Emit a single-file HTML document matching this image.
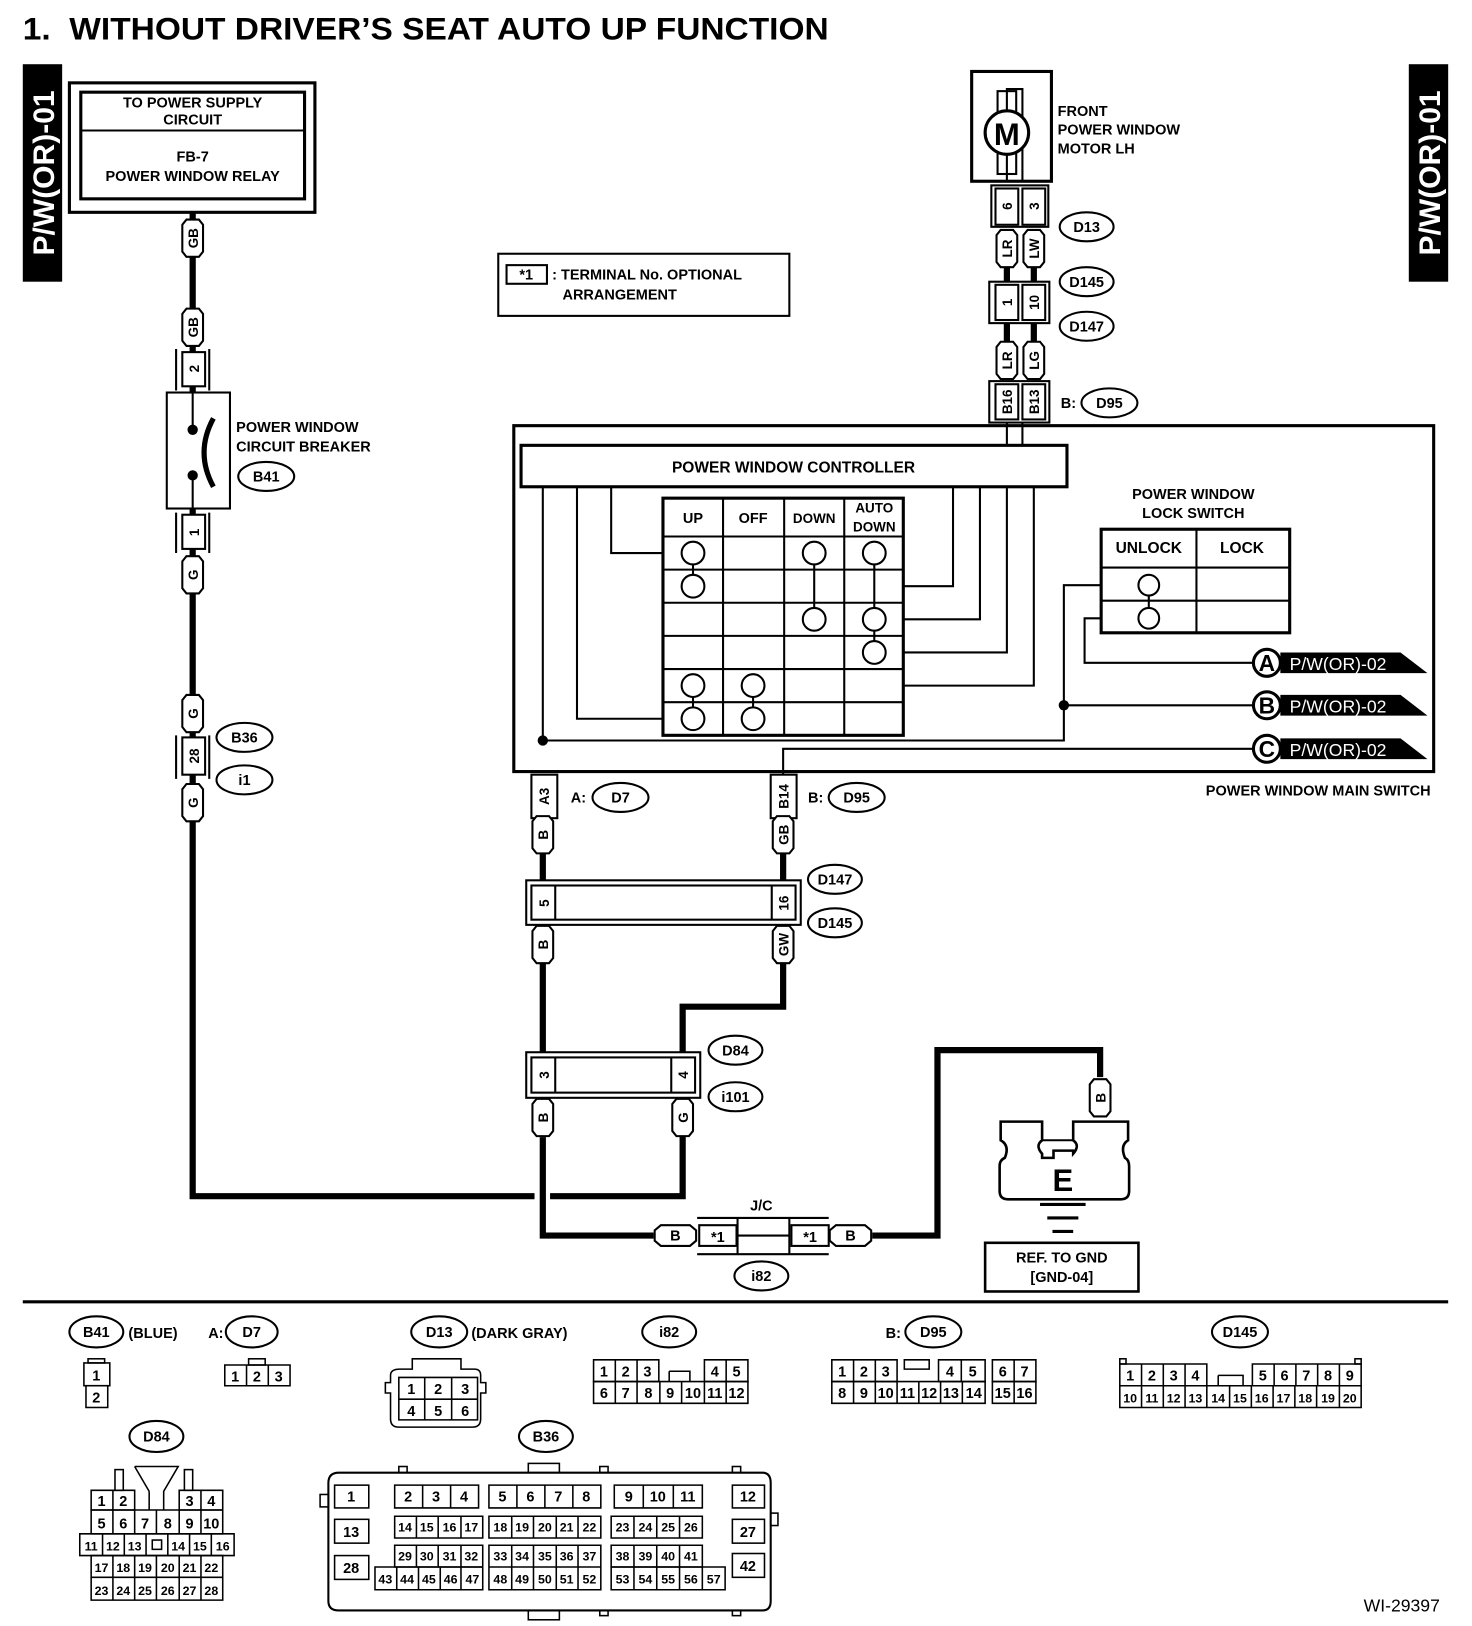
<!DOCTYPE html>
<html><head><meta charset="utf-8"><style>
html,body{margin:0;padding:0;background:#fff}
svg{display:block}
text{font-family:"Liberation Sans",Arial,sans-serif;font-weight:bold;fill:#000}
.n{font-weight:normal;font-size:14px}
</style></head><body>
<svg width="1472" height="1626" viewBox="0 0 1421 1570" preserveAspectRatio="none" xmlns="http://www.w3.org/2000/svg">
<defs>
<g id="pv"><polygon points="-6,-18 6,-18 10,-13 10,13 6,18 -6,18 -10,13 -10,-13" fill="#fff" stroke="#000" stroke-width="2"/></g>
<g id="ph"><polygon points="-14,-10 14,-10 20,-5 20,5 14,10 -14,10 -20,5 -20,-5" fill="#fff" stroke="#000" stroke-width="2"/></g>
</defs>
<rect width="1421" height="1570" fill="#fff"/>
<text x="22" y="38" font-size="30" textLength="778" lengthAdjust="spacingAndGlyphs" xml:space="preserve">1.  WITHOUT DRIVER’S SEAT AUTO UP FUNCTION</text>
<rect x="22" y="62" width="38" height="210" fill="#000"/>
<text transform="translate(52,167) rotate(-90)" text-anchor="middle" font-size="29" style="fill:#fff">P/W(OR)-01</text>
<rect x="1360" y="62" width="38" height="210" fill="#000"/>
<text transform="translate(1390,167) rotate(-90)" text-anchor="middle" font-size="29" style="fill:#fff">P/W(OR)-01</text>

<g fill="none" stroke="#000" stroke-width="2">
<rect x="67" y="80" width="237" height="125" stroke-width="3"/>
<rect x="78" y="89" width="216" height="103" stroke-width="3"/>
<line x1="78" y1="126" x2="294" y2="126"/>
<path d="M186 205V1155H516" stroke-width="6"/>
<path d="M531 1155H659V1090" stroke-width="6"/>
<rect x="161" y="379" width="61" height="112" fill="#fff"/>
<line x1="186" y1="379" x2="186" y2="415"/><line x1="186" y1="459" x2="186" y2="491"/>
<path d="M206 404Q188 437 206 470" stroke-width="5"/>
<rect x="176" y="340" width="22" height="33" fill="#fff"/><path d="M170 337V377M202 337V377"/>
<rect x="176" y="497" width="22" height="33" fill="#fff"/><path d="M170 495V534M202 495V534"/>
<rect x="176" y="712" width="22" height="36" fill="#fff"/><path d="M170 710V752M202 710V752"/>
<rect x="481" y="245" width="281" height="60"/>
<rect x="489" y="256" width="39" height="18"/>
<rect x="938" y="69" width="77" height="106" stroke-width="3"/>
<path d="M972 108V86H987V175M972 148V175"/>
<rect x="963" y="88" width="18" height="20"/><rect x="963" y="148" width="18" height="20"/>
<circle cx="972" cy="128" r="21" fill="#fff" stroke-width="3"/>
<rect x="957" y="179" width="55" height="40"/>
<rect x="961" y="182" width="22" height="35"/><rect x="987" y="182" width="22" height="35"/>
<path d="M972 258V272M998 258V272M972 312V330M998 312V330" stroke-width="6"/>
<rect x="955" y="272" width="58" height="40"/>
<rect x="961" y="275" width="22" height="34"/><rect x="987" y="275" width="22" height="34"/>
<rect x="955" y="368" width="58" height="40"/>
<rect x="961" y="371" width="22" height="34"/><rect x="987" y="371" width="22" height="34"/>
<path d="M972 408V430M987 408V430"/>
<rect x="496" y="411" width="888" height="334" stroke-width="3"/>
<rect x="503" y="430" width="527" height="40" stroke-width="3" fill="#fff"/>
<path d="M524 470V715M557 470V694H640M590 470V534H640M920 470V566H872M946 470V598H872M972 470V630H872M998 470V662H872"/>
<rect x="640" y="481" width="232" height="229" stroke-width="3"/>
<path d="M698 481V710M757 481V710M815 481V710M640 518H872M640 550H872M640 582H872M640 614H872M640 646H872M640 678H872"/>
<path d="M669 534V566M786 534V598M844 534V630M669 662V694M727 662V694"/>
<g fill="#fff">
<circle cx="669" cy="534" r="11"/><circle cx="669" cy="566" r="11"/>
<circle cx="786" cy="534" r="11"/><circle cx="786" cy="598" r="11"/>
<circle cx="844" cy="534" r="11"/><circle cx="844" cy="598" r="11"/><circle cx="844" cy="630" r="11"/>
<circle cx="669" cy="662" r="11"/><circle cx="669" cy="694" r="11"/>
<circle cx="727" cy="662" r="11"/><circle cx="727" cy="694" r="11"/>
</g>
<rect x="1063" y="511" width="182" height="100" stroke-width="3"/>
<path d="M1155 511V611M1063 548H1245M1063 580H1245M1109 565V597"/>
<circle cx="1109" cy="565" r="10" fill="#fff"/><circle cx="1109" cy="597" r="10" fill="#fff"/>
<path d="M1063 565H1027V715H524M1063 597H1047V640H1210M1027 681H1210M756 748V723H1210"/>
<rect x="513" y="748" width="25" height="42"/><rect x="744" y="748" width="25" height="42"/>
<path d="M524 824V850M756 824V850M524 930V1016M756 930V972H659V1016M524 1098V1193H631M842 1193H905V1014H1062V1040" stroke-width="6"/>
<rect x="508" y="850" width="265" height="43"/>
<rect x="513" y="855" width="255" height="33"/>
<path d="M536 855V888M745 855V888"/>
<rect x="508" y="1016" width="168" height="44"/>
<rect x="513" y="1021" width="158" height="34"/>
<path d="M536 1021V1055M648 1021V1055"/>
<path d="M673 1176H800M673 1211H800M712 1176V1211M762 1176V1211M712 1193H762"/>
<rect x="675" y="1183" width="36" height="20"/><rect x="764" y="1183" width="36" height="20"/>
<path d="M966 1083H1006V1101Q999 1106 1006 1114V1118H1017V1111H1036V1114Q1043 1106 1036 1101V1083H1089V1101Q1081 1106 1086 1118Q1090 1120 1090 1126V1150Q1090 1158 1082 1158H973Q965 1158 965 1150V1126Q965 1120 970 1118Q975 1106 966 1101Z" stroke-width="2.5"/>
<path d="M1006 1101H1036"/>
<path d="M1004 1163H1048M1011 1176H1041M1016 1189H1036" stroke-width="3"/>
<rect x="951" y="1200" width="148" height="47" stroke-width="2.5"/>
<line x1="22" y1="1257" x2="1398" y2="1257" stroke-width="3"/>
</g>
<text x="972" y="140" text-anchor="middle" font-size="30">M</text>
<g>
<polygon points="1236,630 1352,630 1378,650 1236,650" fill="#000"/>
<polygon points="1236,671 1352,671 1378,691 1236,691" fill="#000"/>
<polygon points="1236,713 1352,713 1378,733 1236,733" fill="#000"/>
<circle cx="1223" cy="640" r="13" fill="#fff" stroke="#000" stroke-width="3"/>
<circle cx="1223" cy="681" r="13" fill="#fff" stroke="#000" stroke-width="3"/>
<circle cx="1223" cy="723" r="13" fill="#fff" stroke="#000" stroke-width="3"/>
<text x="1223" y="648" text-anchor="middle" font-size="22">A</text>
<text x="1223" y="689" text-anchor="middle" font-size="22">B</text>
<text x="1223" y="731" text-anchor="middle" font-size="22">C</text>
<text x="1245" y="647" font-size="17" style="fill:#fff;font-weight:normal">P/W(OR)-02</text>
<text x="1245" y="688" font-size="17" style="fill:#fff;font-weight:normal">P/W(OR)-02</text>
<text x="1245" y="730" font-size="17" style="fill:#fff;font-weight:normal">P/W(OR)-02</text>
<circle cx="524" cy="715" r="5"/><circle cx="1027" cy="681" r="5"/>
<circle cx="186" cy="415" r="5"/><circle cx="186" cy="459" r="5"/>
</g>
<g font-size="13">
<g transform="translate(186,230)"><use href="#pv"/><text transform="rotate(-90)" y="5" text-anchor="middle">GB</text></g>
<g transform="translate(186,316)"><use href="#pv"/><text transform="rotate(-90)" y="5" text-anchor="middle">GB</text></g>
<g transform="translate(186,555)"><use href="#pv"/><text transform="rotate(-90)" y="5" text-anchor="middle">G</text></g>
<g transform="translate(186,689)"><use href="#pv"/><text transform="rotate(-90)" y="5" text-anchor="middle">G</text></g>
<g transform="translate(186,775)"><use href="#pv"/><text transform="rotate(-90)" y="5" text-anchor="middle">G</text></g>
<g transform="translate(972,240)"><use href="#pv"/><text transform="rotate(-90)" y="5" text-anchor="middle">LR</text></g>
<g transform="translate(998,240)"><use href="#pv"/><text transform="rotate(-90)" y="5" text-anchor="middle">LW</text></g>
<g transform="translate(972,348)"><use href="#pv"/><text transform="rotate(-90)" y="5" text-anchor="middle">LR</text></g>
<g transform="translate(998,348)"><use href="#pv"/><text transform="rotate(-90)" y="5" text-anchor="middle">LG</text></g>
<g transform="translate(524,806)"><use href="#pv"/><text transform="rotate(-90)" y="5" text-anchor="middle">B</text></g>
<g transform="translate(756,806)"><use href="#pv"/><text transform="rotate(-90)" y="5" text-anchor="middle">GB</text></g>
<g transform="translate(524,912)"><use href="#pv"/><text transform="rotate(-90)" y="5" text-anchor="middle">B</text></g>
<g transform="translate(756,912)"><use href="#pv"/><text transform="rotate(-90)" y="5" text-anchor="middle">GW</text></g>
<g transform="translate(524,1079)"><use href="#pv"/><text transform="rotate(-90)" y="5" text-anchor="middle">B</text></g>
<g transform="translate(659,1079)"><use href="#pv"/><text transform="rotate(-90)" y="5" text-anchor="middle">G</text></g>
<g transform="translate(1062,1060)"><use href="#pv"/><text transform="rotate(-90)" y="5" text-anchor="middle">B</text></g>
<g transform="translate(652,1193)"><use href="#ph"/><text y="5" text-anchor="middle" font-size="14">B</text></g>
<g transform="translate(821,1193)"><use href="#ph"/><text y="5" text-anchor="middle" font-size="14">B</text></g>
<text transform="translate(192,356) rotate(-90)" text-anchor="middle">2</text>
<text transform="translate(192,514) rotate(-90)" text-anchor="middle">1</text>
<text transform="translate(192,730) rotate(-90)" text-anchor="middle">28</text>
<text transform="translate(977,199) rotate(-90)" text-anchor="middle">6</text>
<text transform="translate(1003,199) rotate(-90)" text-anchor="middle">3</text>
<text transform="translate(977,292) rotate(-90)" text-anchor="middle">1</text>
<text transform="translate(1003,292) rotate(-90)" text-anchor="middle">10</text>
<text transform="translate(977,388) rotate(-90)" text-anchor="middle">B16</text>
<text transform="translate(1003,388) rotate(-90)" text-anchor="middle">B13</text>
<text transform="translate(530,769) rotate(-90)" text-anchor="middle">A3</text>
<text transform="translate(761,769) rotate(-90)" text-anchor="middle">B14</text>
<text transform="translate(530,872) rotate(-90)" text-anchor="middle">5</text>
<text transform="translate(761,872) rotate(-90)" text-anchor="middle">16</text>
<text transform="translate(530,1038) rotate(-90)" text-anchor="middle">3</text>
<text transform="translate(664,1038) rotate(-90)" text-anchor="middle">4</text>
</g>
<g fill="#fff" stroke="#000" stroke-width="2">
<ellipse cx="257" cy="460" rx="27" ry="14"/><ellipse cx="236" cy="712" rx="27" ry="14"/><ellipse cx="236" cy="753" rx="27" ry="14"/>
<ellipse cx="1049" cy="219" rx="26" ry="14"/><ellipse cx="1049" cy="272" rx="26" ry="14"/><ellipse cx="1049" cy="315" rx="26" ry="14"/><ellipse cx="1071" cy="389" rx="27" ry="14"/>
<ellipse cx="599" cy="770" rx="27" ry="14"/><ellipse cx="827" cy="770" rx="27" ry="14"/>
<ellipse cx="806" cy="849" rx="26" ry="14"/><ellipse cx="806" cy="891" rx="26" ry="14"/>
<ellipse cx="710" cy="1014" rx="26" ry="14"/><ellipse cx="710" cy="1059" rx="26" ry="14"/><ellipse cx="735" cy="1232" rx="26" ry="14"/>
<ellipse cx="93" cy="1286" rx="26" ry="15"/><ellipse cx="243" cy="1286" rx="25" ry="15"/><ellipse cx="424" cy="1286" rx="27" ry="15"/>
<ellipse cx="646" cy="1286" rx="26" ry="15"/><ellipse cx="901" cy="1286" rx="27" ry="15"/><ellipse cx="1197" cy="1286" rx="27" ry="15"/>
<ellipse cx="151" cy="1387" rx="26" ry="15"/><ellipse cx="527" cy="1387" rx="26" ry="15"/>
</g>
<g font-size="14" text-anchor="middle">
<text x="257" y="465">B41</text><text x="236" y="717">B36</text><text x="236" y="758">i1</text>
<text x="1049" y="224">D13</text><text x="1049" y="277">D145</text><text x="1049" y="320">D147</text><text x="1071" y="394">D95</text>
<text x="599" y="775">D7</text><text x="827" y="775">D95</text>
<text x="806" y="854">D147</text><text x="806" y="896">D145</text>
<text x="710" y="1019">D84</text><text x="710" y="1064">i101</text><text x="735" y="1237">i82</text>
<text x="93" y="1291">B41</text><text x="243" y="1291">D7</text><text x="424" y="1291">D13</text>
<text x="646" y="1291">i82</text><text x="901" y="1291">D95</text><text x="1197" y="1291">D145</text>
<text x="151" y="1392">D84</text><text x="527" y="1392">B36</text>
<text x="186" y="104">TO POWER SUPPLY</text><text x="186" y="120">CIRCUIT</text>
<text x="186" y="156">FB-7</text><text x="186" y="175">POWER WINDOW RELAY</text>
<text x="766" y="456" font-size="15">POWER WINDOW CONTROLLER</text>
<text x="669" y="505">UP</text><text x="727" y="505">OFF</text><text x="786" y="505" font-size="13">DOWN</text>
<text x="844" y="495" font-size="13">AUTO</text><text x="844" y="513" font-size="13">DOWN</text>
<text x="1152" y="482">POWER WINDOW</text><text x="1152" y="500">LOCK SWITCH</text>
<text x="1109" y="534" font-size="15">UNLOCK</text><text x="1199" y="534" font-size="15">LOCK</text>
<text x="735" y="1169">J/C</text>
<text x="693" y="1199">*1</text><text x="782" y="1199">*1</text>
<text x="1026" y="1150" font-size="30">E</text>
<text x="1025" y="1219">REF. TO GND</text><text x="1025" y="1238">[GND-04]</text>
<text x="508" y="270">*1</text>
</g>
<g font-size="14">
<text x="533" y="270">: TERMINAL No. OPTIONAL</text><text x="543" y="289">ARRANGEMENT</text>
<text x="1021" y="112">FRONT</text><text x="1021" y="130">POWER WINDOW</text><text x="1021" y="148">MOTOR LH</text>
<text x="228" y="417">POWER WINDOW</text><text x="228" y="436">CIRCUIT BREAKER</text>
<text x="1024" y="394">B:</text><text x="551" y="775">A:</text><text x="780" y="775">B:</text>
<text x="1381" y="768" text-anchor="end">POWER WINDOW MAIN SWITCH</text>
<text x="124" y="1292">(BLUE)</text><text x="201" y="1292">A:</text><text x="455" y="1292">(DARK GRAY)</text><text x="855" y="1292">B:</text>
</g>
<text x="1390" y="1556" text-anchor="end" font-size="17" style="font-weight:normal">WI-29397</text>

<g fill="none" stroke="#000" stroke-width="1.5">
<rect x="85" y="1312" width="16" height="4"/><rect x="81" y="1316" width="25" height="22"/><rect x="83" y="1338" width="21" height="21"/>
<rect x="240" y="1312" width="16" height="6"/><path d="M217 1318H280V1338H217ZM238 1318V1338M259 1318V1338"/>
<path d="M386 1322H398V1312H445V1322H458Q464 1322 464 1328V1335H469V1345H464V1370Q464 1378 456 1378H385Q377 1378 377 1370V1345H372V1335H377V1328Q377 1322 386 1322Z"/>
<path d="M385 1330H461V1371H385ZM385 1351H461M410 1330V1371M436 1330V1371"/>
<path d="M573 1313H636V1334H573ZM594 1313V1334M615 1313V1334M646 1324H666V1334M646 1324V1334M680 1313H722V1334H680ZM701 1313V1334"/>
<path d="M573 1334H722V1355H573Z"/>
<path d="M594 1334V1355M615 1334V1355M637 1334V1355M658 1334V1355M680 1334V1355M701 1334V1355"/>
<path d="M803 1313H866V1334H803ZM824 1313V1334M845 1313V1334M873 1313H897V1322H873ZM906 1313H951V1334H906ZM928 1313V1334M958 1313H1000V1334H958ZM979 1313V1334"/>
<path d="M803 1334H951V1355H803ZM824 1334V1355M845 1334V1355M866 1334V1355M887 1334V1355M908 1334V1355M929 1334V1355M958 1334H1000V1355H958ZM979 1334V1355"/>
<path d="M1081 1317H1165V1338H1081ZM1102 1317V1338M1123 1317V1338M1144 1317V1338M1176 1328H1200V1338M1176 1328V1338M1209 1317H1314V1338H1209ZM1230 1317V1338M1251 1317V1338M1272 1317V1338M1293 1317V1338"/>
<path d="M1081 1338H1314V1359H1081ZM1102 1338V1359M1123 1338V1359M1144 1338V1359M1165 1338V1359M1187 1338V1359M1208 1338V1359M1229 1338V1359M1250 1338V1359M1271 1338V1359M1293 1338V1359"/>
<rect x="1081" y="1312" width="6" height="5"/><rect x="1308" y="1312" width="6" height="5"/>
<path d="M130 1416H172L158 1440V1458M144 1440V1458M130 1416L144 1440"/>
<rect x="111" y="1419" width="8" height="20"/><rect x="178" y="1419" width="8" height="20"/>
<path d="M88 1439H130V1458H88ZM109 1439V1458M173 1439H215V1458H173ZM194 1439V1458"/>
<path d="M88 1458H215V1481H88ZM109 1458V1481M130 1458V1481M151 1458V1481M173 1458V1481M194 1458V1481"/>
<path d="M77 1481H226V1502H77ZM99 1481V1502M120 1481V1502M141 1481V1502M162 1481V1502M183 1481V1502M204 1481V1502"/>
<rect x="147" y="1487" width="9" height="9"/>
<path d="M88 1502H215V1545H88ZM88 1523H215M109 1502V1545M130 1502V1545M151 1502V1545M173 1502V1545M194 1502V1545"/>
<path d="M327 1422H736Q744 1422 744 1432V1546Q744 1555 736 1555H327Q317 1555 317 1546V1432Q317 1422 327 1422Z" stroke-width="2"/>
<rect x="309" y="1443" width="8" height="12"/><rect x="744" y="1461" width="7" height="12"/>
<rect x="510" y="1413" width="30" height="9"/><rect x="510" y="1555" width="30" height="9"/>
<rect x="385" y="1416" width="8" height="6"/><rect x="579" y="1416" width="8" height="6"/><rect x="707" y="1416" width="8" height="6"/>
<rect x="579" y="1555" width="8" height="5"/><rect x="707" y="1555" width="8" height="5"/>
<rect x="323" y="1434" width="33" height="22"/><rect x="323" y="1467" width="33" height="23"/><rect x="323" y="1502" width="33" height="23"/>
<rect x="707" y="1434" width="31" height="22"/><rect x="707" y="1467" width="31" height="23"/><rect x="707" y="1500" width="31" height="23"/>
<path d="M381 1434H462V1456H381ZM408 1434V1456M435 1434V1456"/>
<path d="M472 1434H580V1456H472ZM499 1434V1456M526 1434V1456M553 1434V1456"/>
<path d="M593 1434H678V1456H593ZM621 1434V1456M650 1434V1456"/>
<path d="M381 1464H466V1485H381ZM402 1464V1485M423 1464V1485M445 1464V1485"/>
<path d="M472 1464H580V1485H472ZM494 1464V1485M515 1464V1485M537 1464V1485M558 1464V1485"/>
<path d="M590 1464H678V1485H590ZM612 1464V1485M634 1464V1485M656 1464V1485"/>
<path d="M381 1492H466V1513H381ZM402 1492V1513M423 1492V1513M445 1492V1513"/>
<path d="M472 1492H580V1535H472ZM472 1513H580M494 1492V1535M515 1492V1535M537 1492V1535M558 1492V1535"/>
<path d="M590 1492H678V1513H590ZM612 1492V1513M634 1492V1513M656 1492V1513"/>
<path d="M362 1513H466V1535H362ZM383 1513V1535M404 1513V1535M425 1513V1535M445 1513V1535"/>
<path d="M590 1513H700V1535H590ZM612 1513V1535M634 1513V1535M656 1513V1535M678 1513V1535"/>
</g>
<g class="n" text-anchor="middle">
<text x="93" y="1333">1</text><text x="93" y="1354">2</text>
<text x="227" y="1334">1</text><text x="248" y="1334">2</text><text x="269" y="1334">3</text>
<text x="397" y="1346">1</text><text x="423" y="1346">2</text><text x="449" y="1346">3</text>
<text x="397" y="1367">4</text><text x="423" y="1367">5</text><text x="449" y="1367">6</text>
<text x="583" y="1329">1</text><text x="604" y="1329">2</text><text x="625" y="1329">3</text><text x="690" y="1329">4</text><text x="711" y="1329">5</text>
<text x="583" y="1350">6</text><text x="604" y="1350">7</text><text x="626" y="1350">8</text><text x="647" y="1350">9</text><text x="669" y="1350">10</text><text x="690" y="1350">11</text><text x="711" y="1350">12</text>
<text x="813" y="1329">1</text><text x="834" y="1329">2</text><text x="855" y="1329">3</text><text x="917" y="1329">4</text><text x="939" y="1329">5</text><text x="968" y="1329">6</text><text x="989" y="1329">7</text>
<text x="813" y="1350">8</text><text x="834" y="1350">9</text><text x="855" y="1350">10</text><text x="876" y="1350">11</text><text x="897" y="1350">12</text><text x="918" y="1350">13</text><text x="940" y="1350">14</text><text x="968" y="1350">15</text><text x="989" y="1350">16</text>
<text x="1091" y="1333">1</text><text x="1112" y="1333">2</text><text x="1133" y="1333">3</text><text x="1154" y="1333">4</text>
<text x="1219" y="1333">5</text><text x="1240" y="1333">6</text><text x="1261" y="1333">7</text><text x="1282" y="1333">8</text><text x="1303" y="1333">9</text>
<g font-size="12"><text x="1091" y="1354">10</text><text x="1112" y="1354">11</text><text x="1133" y="1354">12</text><text x="1154" y="1354">13</text><text x="1176" y="1354">14</text><text x="1197" y="1354">15</text><text x="1218" y="1354">16</text><text x="1239" y="1354">17</text><text x="1260" y="1354">18</text><text x="1282" y="1354">19</text><text x="1303" y="1354">20</text></g>
<text x="98" y="1454">1</text><text x="119" y="1454">2</text><text x="183" y="1454">3</text><text x="204" y="1454">4</text>
<text x="98" y="1476">5</text><text x="119" y="1476">6</text><text x="140" y="1476">7</text><text x="162" y="1476">8</text><text x="183" y="1476">9</text><text x="204" y="1476">10</text>
<g font-size="12"><text x="88" y="1497">11</text><text x="109" y="1497">12</text><text x="130" y="1497">13</text><text x="172" y="1497">14</text><text x="193" y="1497">15</text><text x="215" y="1497">16</text>
<text x="98" y="1518">17</text><text x="119" y="1518">18</text><text x="140" y="1518">19</text><text x="162" y="1518">20</text><text x="183" y="1518">21</text><text x="204" y="1518">22</text>
<text x="98" y="1540">23</text><text x="119" y="1540">24</text><text x="140" y="1540">25</text><text x="162" y="1540">26</text><text x="183" y="1540">27</text><text x="204" y="1540">28</text></g>
<text x="339" y="1450">1</text><text x="339" y="1484">13</text><text x="339" y="1519">28</text>
<text x="722" y="1450">12</text><text x="722" y="1484">27</text><text x="722" y="1517">42</text>
<text x="394" y="1450">2</text><text x="421" y="1450">3</text><text x="448" y="1450">4</text>
<text x="485" y="1450">5</text><text x="512" y="1450">6</text><text x="539" y="1450">7</text><text x="566" y="1450">8</text>
<text x="607" y="1450">9</text><text x="635" y="1450">10</text><text x="664" y="1450">11</text>
<g font-size="12">
<text x="391" y="1479">14</text><text x="412" y="1479">15</text><text x="434" y="1479">16</text><text x="455" y="1479">17</text>
<text x="483" y="1479">18</text><text x="504" y="1479">19</text><text x="526" y="1479">20</text><text x="547" y="1479">21</text><text x="569" y="1479">22</text>
<text x="601" y="1479">23</text><text x="623" y="1479">24</text><text x="645" y="1479">25</text><text x="667" y="1479">26</text>
<text x="391" y="1507">29</text><text x="412" y="1507">30</text><text x="434" y="1507">31</text><text x="455" y="1507">32</text>
<text x="483" y="1507">33</text><text x="504" y="1507">34</text><text x="526" y="1507">35</text><text x="547" y="1507">36</text><text x="569" y="1507">37</text>
<text x="601" y="1507">38</text><text x="623" y="1507">39</text><text x="645" y="1507">40</text><text x="667" y="1507">41</text>
<text x="372" y="1529">43</text><text x="393" y="1529">44</text><text x="414" y="1529">45</text><text x="435" y="1529">46</text><text x="456" y="1529">47</text>
<text x="483" y="1529">48</text><text x="504" y="1529">49</text><text x="526" y="1529">50</text><text x="547" y="1529">51</text><text x="569" y="1529">52</text>
<text x="601" y="1529">53</text><text x="623" y="1529">54</text><text x="645" y="1529">55</text><text x="667" y="1529">56</text><text x="689" y="1529">57</text>
</g>
</g>
</svg>
</body></html>
